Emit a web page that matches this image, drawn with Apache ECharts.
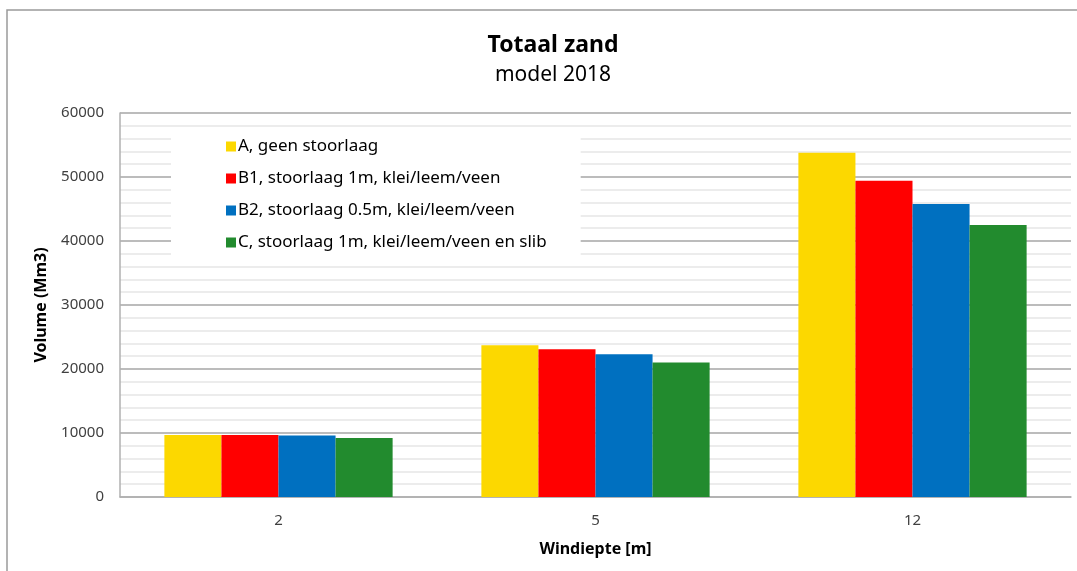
<!DOCTYPE html>
<html>
<head>
<meta charset="utf-8">
<script src="https://cdn.jsdelivr.net/npm/echarts@6/dist/echarts.min.js"></script>
<style>
    html, body { margin: 0; padding: 0; background: #fff; }
    #chart { width: 1077px; height: 571px; }
</style>
</head>
<body>
<div id="chart"></div>
<script>
// categorieen (windiepte) en volumes per scenario
const categories = ['2', '5', '12'];
const seriesNames = [
    'A, geen stoorlaag',
    'B1, stoorlaag 1m, klei/leem/veen',
    'B2, stoorlaag 0.5m, klei/leem/veen',
    'C, stoorlaag 1m, klei/leem/veen en slib'
];
const valuesA = [9700, 23700, 53800];
const valuesB1 = [9700, 23100, 49400];
const valuesB2 = [9600, 22300, 45800];
const valuesC = [9200, 21000, 42500];
const colors = ['#FCD800', '#FF0000', '#0070C0', '#228B2E'];

const font = '"Noto Sans", sans-serif';
const chart = echarts.init(document.getElementById('chart'));

const allValues = [valuesA, valuesB1, valuesB2, valuesC];

const option = {
    animation: false,
    textStyle: { fontFamily: font },
    graphic: [{
        // buitenrand van de grafiek
        type: 'rect',
        shape: { x: 7, y: 10, width: 1120, height: 620 },
        style: { fill: 'none', stroke: '#9a9a9a', lineWidth: 1.5 },
        silent: true
    }],
    title: [{
        text: 'Totaal zand',
        left: 548,
        top: 29,
        textAlign: 'center',
        textStyle: { fontSize: 23, fontWeight: 'bold', color: '#000', fontFamily: font }
    }, {
        text: 'model 2018',
        left: 548,
        top: 60,
        textAlign: 'center',
        textStyle: { fontSize: 21, fontWeight: 'normal', color: '#000', fontFamily: font }
    }],
    legend: {
        orient: 'vertical',
        left: 171,
        top: 131,
        padding: [7, 34, 12, 55],
        itemGap: 15,
        itemWidth: 10,
        itemHeight: 10,
        icon: 'rect',
        backgroundColor: '#fff',
        data: seriesNames,
        textStyle: { fontSize: 17, color: '#000', fontFamily: font, padding: [0, 0, 0, -3] }
    },
    grid: {
        left: 120,
        right: 6,
        top: 113,
        bottom: 74
    },
    xAxis: {
        type: 'category',
        data: categories,
        name: 'Windiepte [m]',
        nameLocation: 'middle',
        nameGap: 44,
        nameTextStyle: { fontSize: 16, fontWeight: 'bold', color: '#000' },
        axisTick: { show: false },
        axisLine: { lineStyle: { color: '#b0b0b0', width: 1.5 } },
        axisLabel: { fontSize: 15, color: '#404040', margin: 16 }
    },
    yAxis: {
        type: 'value',
        min: 0,
        max: 60000,
        interval: 10000,
        name: 'Volume (Mm3)',
        nameLocation: 'middle',
        nameGap: 71,
        nameTextStyle: { fontSize: 16, fontWeight: 'bold', color: '#000' },
        axisLine: { show: true, lineStyle: { color: '#b0b0b0', width: 1.5 } },
        axisTick: { show: false },
        axisLabel: { fontSize: 15, color: '#404040', margin: 16, formatter: v => String(v) },
        splitLine: { lineStyle: { color: '#a6a6a6', width: 1.5 } },
        minorTick: { show: false, splitNumber: 5 },
        minorSplitLine: { show: true, lineStyle: { color: '#e6e6e6', width: 1.5 } }
    },
    series: allValues.map((vals, i) => ({
        name: seriesNames[i],
        type: 'bar',
        data: vals,
        barGap: '0%',
        barCategoryGap: '28%',
        itemStyle: { color: colors[i] }
    }))
};

chart.setOption(option);
</script>
</body>
</html>
